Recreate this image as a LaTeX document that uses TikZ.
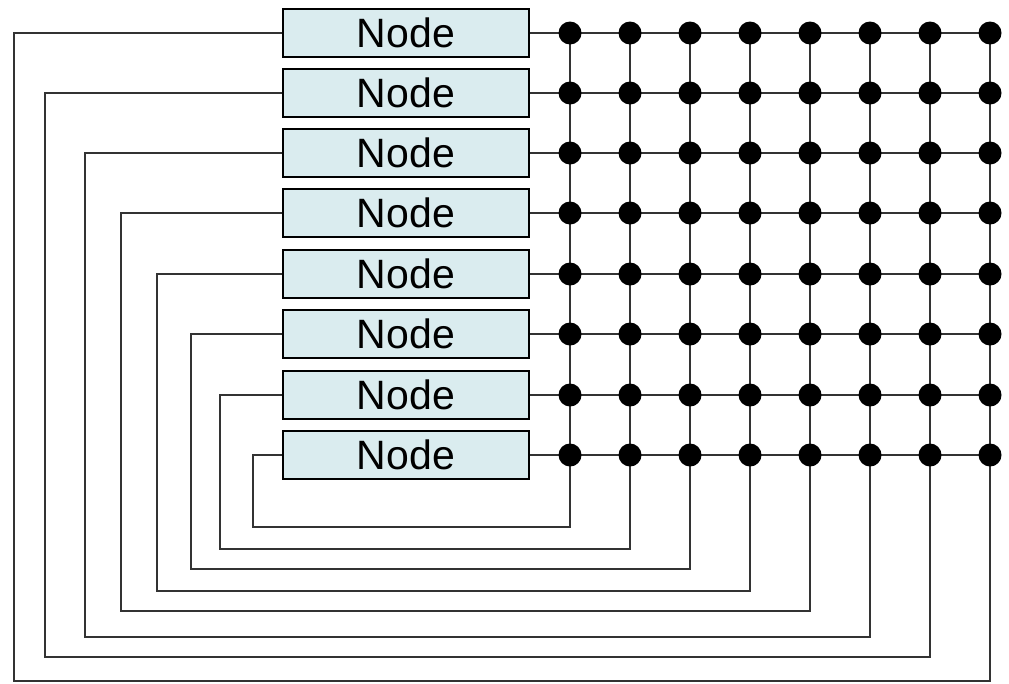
\documentclass[tikz,border=0pt]{standalone}
\usepackage{fontspec}
\setmainfont{Liberation Sans}
\usetikzlibrary{backgrounds}
\definecolor{boxfill}{RGB}{218,236,239}
\definecolor{wirecol}{RGB}{51,51,51}
\begin{document}
\begin{tikzpicture}[x=1pt,y=-1pt,
  nodebox/.style={draw=black,line width=2pt,fill=boxfill,minimum width=246pt,minimum height=48pt,inner sep=0pt,font=\fontsize{41}{41}\selectfont},
  dot/.style={circle,fill=black,minimum size=23pt,inner sep=0pt},
  wire/.style={draw=wirecol,line width=2pt}]
\useasboundingbox (0,0) rectangle (1009,683);
\foreach \y [count=\r] in {33,93,153,213,274,334,395,455} {
  \node[nodebox] (b\r) at (406,\y) {Node};
  \foreach \c in {1,...,8} {
    \node[dot] (d\r-\c) at ({570+60*(\c-1)},\y) {};
  }
}
\begin{scope}[on background layer]
  \foreach \r in {1,...,8} \draw[wire] (b\r.east) -- (d\r-8.center);
  \foreach \c in {1,...,8} \draw[wire] (d1-\c.center) -- (d8-\c.center);
  \foreach \c/\yb/\xl in {1/527/253,2/549/220,3/569/191,4/591/157,5/611/121,6/637/85,7/657/45,8/681/14} {
    \pgfmathtruncatemacro\rr{9-\c}
    \coordinate (q\c) at (\xl,\yb);
    \draw[wire] (d8-\c.center) |- (q\c) |- (b\rr.west);
  }
\end{scope}
\end{tikzpicture}
\end{document}
